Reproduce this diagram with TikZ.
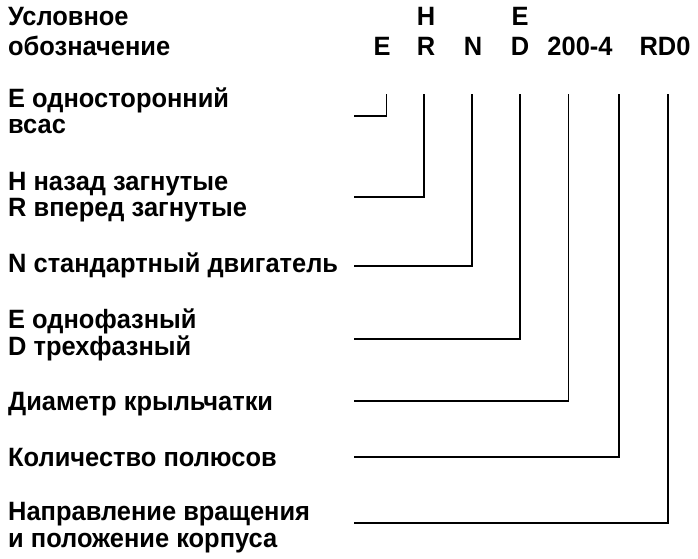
\documentclass[tikz,border=0pt]{standalone}
\usepackage{fontspec}
\setmainfont{Liberation Sans}[FakeStretch=0.96]
\begin{document}
\begin{tikzpicture}[x=1pt,y=-1pt,
  lbl/.style={inner sep=0pt,anchor=base west,font=\fontsize{26.5}{27}\selectfont\bfseries},
  code/.style={inner sep=0pt,anchor=base,font=\fontsize{26.5}{27}\selectfont\bfseries},
  conn/.style={line width=1.8pt,line cap=rect}]
\useasboundingbox (0,0) rectangle (698,558);
% header
\node[lbl] (t1) at (8,25) {Условное};
\node[lbl] (t2) at (8,55) {обозначение};
\node[code] (cH) at (426,25) {H};
\node[code] (cE2) at (520,25) {E};
\node[code] (cE) at (382,55) {E};
\node[code] (cR) at (426,55) {R};
\node[code] (cN) at (473,55) {N};
\node[code] (cD) at (520,55) {D};
\node[code] (c200) at (580,55) {200-4};
\node[code] (cRD) at (665,55) {RD0};
% labels
\node[lbl] (l1a) at (8,107) {E односторонний};
\node[lbl] (l1b) at (8,133) {всас};
\node[lbl] (l2a) at (8,190) {H назад загнутые};
\node[lbl] (l2b) at (8,216) {R вперед загнутые};
\node[lbl] (l3) at (8,272) {N стандартный двигатель};
\node[lbl] (l4a) at (8,328) {E однофазный};
\node[lbl] (l4b) at (8,355) {D трехфазный};
\node[lbl] (l5) at (8,410) {Диаметр крыльчатки};
\node[lbl] (l6) at (8,466) {Количество полюсов};
\node[lbl] (l7a) at (8,520) {Направление вращения};
\node[lbl] (l7b) at (8,547) {и положение корпуса};
% connector ends
\coordinate (pE) at (386.5,95);  \coordinate (qE) at (355,116);
\coordinate (pR) at (424,95);    \coordinate (qR) at (355,197);
\coordinate (pN) at (472,95);    \coordinate (qN) at (355,266);
\coordinate (pD) at (520,95);    \coordinate (qD) at (355,339);
\coordinate (pT) at (568.5,95);  \coordinate (qT) at (355,401);
\coordinate (pF) at (619,95);    \coordinate (qF) at (355,457);
\coordinate (pZ) at (668,95);    \coordinate (qZ) at (355,523);
\foreach \a in {E,R,N,D,T,F,Z} {\draw[conn] (p\a) |- (q\a);}
\end{tikzpicture}
\end{document}
